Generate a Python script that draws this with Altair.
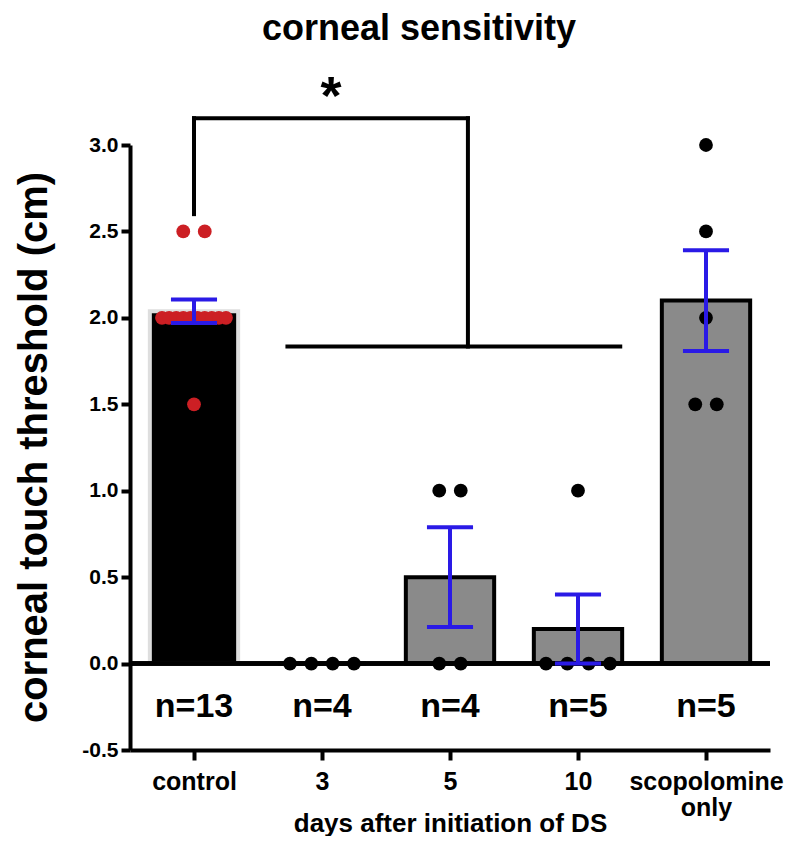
import altair as alt
import pandas as pd
import numpy as np

# ---------------- data ----------------
groups = ["control", "3", "5", "10", "scopolomine|only"]
control_vals = [2.5, 2.5, 2.0, 2.0, 2.0, 2.0, 2.0, 2.0, 2.0, 2.0, 2.0, 2.0, 1.5]
day3_vals = [0.0, 0.0, 0.0, 0.0]
day5_vals = [1.0, 1.0, 0.0, 0.0]
day10_vals = [1.0, 0.0, 0.0, 0.0, 0.0]
scop_vals = [3.0, 2.5, 2.0, 1.5, 1.5]
n_labels = ["n=13", "n=4", "n=4", "n=5", "n=5"]
y_ticks = [-0.5, 0.0, 0.5, 1.0, 1.5, 2.0, 2.5, 3.0]

# significance bracket (data units)
bracket_left_x = 0.0
bracket_right_x = 2.14
bracket_top_y = 3.155
bracket_left_bottom_y = 2.60
bracket_bottom_y = 1.835
bracket_bottom_span = [0.73, 3.33]
star_text = "*"
n_label_y = -0.25

# ---------------- styling ----------------
FONT = "Liberation Sans"
RED = "#cc1f24"
BLUE = "#2a1ae6"
GREY = "#8a8a8a"
BAR_HALF = 0.345
CAP_HALF = 0.18
DOT_STEP = 0.168
DOT_MAX_HALF = 0.25

all_vals = [control_vals, day3_vals, day5_vals, day10_vals, scop_vals]
dot_colors = [RED, "black", "black", "black", "black"]
bar_fill = ["black", GREY, GREY, GREY, GREY]
bar_stroke = ["#dedede", "black", "black", "black", "black"]

# dots, spread horizontally when values coincide
dot_rows = []
for gi, vals in enumerate(all_vals):
    for v in sorted(set(vals)):
        k = vals.count(v)
        step = min(DOT_STEP, 2 * DOT_MAX_HALF / (k - 1)) if k > 1 else 0
        for j in range(k):
            dot_rows.append(dict(x=gi + (j - (k - 1) / 2) * step, y=v, c=dot_colors[gi]))
dots = pd.DataFrame(dot_rows)

# bars with mean and SEM
bar_rows, cap_rows = [], []
for gi, vals in enumerate(all_vals):
    a = np.array(vals)
    m = a.mean()
    sem = a.std(ddof=1) / np.sqrt(len(a))
    bar_rows.append(dict(x=gi, x1=gi - BAR_HALF, x2=gi + BAR_HALF, y=m, y0=0.0,
                         lo=m - sem, hi=m + sem, sem=sem, fill=bar_fill[gi], stroke=bar_stroke[gi]))
    if sem > 0:
        for yy in (m - sem, m + sem):
            cap_rows.append(dict(x1=gi - CAP_HALF, x2=gi + CAP_HALF, y=yy))
bars = pd.DataFrame(bar_rows)
err = bars[bars["sem"] > 0]
caps = pd.DataFrame(cap_rows)

bracket = pd.DataFrame([
    dict(x1=bracket_left_x, x2=bracket_left_x, y=bracket_left_bottom_y, y2=bracket_top_y),
    dict(x1=bracket_left_x, x2=bracket_right_x, y=bracket_top_y, y2=bracket_top_y),
    dict(x1=bracket_right_x, x2=bracket_right_x, y=bracket_bottom_y, y2=bracket_top_y),
    dict(x1=bracket_bottom_span[0], x2=bracket_bottom_span[1], y=bracket_bottom_y, y2=bracket_bottom_y),
])
star = pd.DataFrame([dict(x=(bracket_left_x + bracket_right_x) / 2, y=bracket_top_y, t=star_text)])
nlab = pd.DataFrame([dict(x=i, y=n_label_y, t=t) for i, t in enumerate(n_labels)])

# ---------------- encodings ----------------
label_js = "[" + ",".join("'" + g + "'" for g in groups) + "]"
x_scale = alt.Scale(domain=[-0.5, 4.5], nice=False, zero=False)
y_scale = alt.Scale(domain=[-0.5, 3.0], nice=False, zero=False)

x_axis = alt.Axis(
    values=[0, 1, 2, 3, 4], labelExpr="split(" + label_js + "[datum.value], '|')",
    title="days after initiation of DS", grid=False,
    domainColor="black", domainWidth=4, tickColor="black", tickWidth=4, tickSize=10,
    labelFont=FONT, labelFontSize=25, labelFontWeight="bold", labelColor="black",
    labelPadding=9, labelLineHeight=26, labelBaseline="top",
    titleFont=FONT, titleFontSize=26, titleFontWeight="bold", titleColor="black",
    titleY=73, titleBaseline="middle",
)
y_axis = alt.Axis(
    values=y_ticks,
    labelExpr="datum.value < 0 ? '-' + format(-datum.value, '.1f') : format(datum.value, '.1f')",
    title="corneal touch threshold (cm)", grid=False,
    domainColor="black", domainWidth=4, tickColor="black", tickWidth=4, tickSize=9,
    labelFont=FONT, labelFontSize=21, labelFontWeight="bold", labelColor="black", labelPadding=3,
    titleFont=FONT, titleFontSize=40, titleFontWeight="bold", titleColor="black",
    titleX=-96, titleY=302, titleAngle=270, titleBaseline="middle", titleAlign="center",
)


def X(field):
    return alt.X(field, type="quantitative", scale=x_scale, axis=x_axis)


def Y(field):
    return alt.Y(field, type="quantitative", scale=y_scale, axis=y_axis)


bar_layer = alt.Chart(bars).mark_rect(strokeWidth=4).encode(
    x=X("x1"), x2="x2", y=Y("y"), y2="y0",
    fill=alt.Fill("fill:N", scale=None), stroke=alt.Stroke("stroke:N", scale=None),
)
zero_layer = alt.Chart(bars).mark_rule(color="black", strokeWidth=4).encode(y=alt.datum(0))
bracket_layer = alt.Chart(bracket).mark_rule(color="black", strokeWidth=4, strokeCap="square").encode(
    x=X("x1"), x2="x2", y=Y("y"), y2="y2"
)
dot_layer = alt.Chart(dots).mark_circle(size=190, opacity=1).encode(
    x=X("x"), y=Y("y"), color=alt.Color("c:N", scale=None)
)
err_layer = alt.Chart(err).mark_rule(color=BLUE, strokeWidth=4).encode(x=X("x"), y=Y("lo"), y2="hi")
cap_layer = alt.Chart(caps).mark_rule(color=BLUE, strokeWidth=4).encode(x=X("x1"), x2="x2", y=Y("y"))
star_layer = alt.Chart(star).mark_text(font=FONT, fontSize=54, fontWeight="bold", baseline="alphabetic",
                                       dy=-4, color="black").encode(x=X("x"), y=Y("y"), text="t:N")
n_layer = alt.Chart(nlab).mark_text(font=FONT, fontSize=34, fontWeight="bold", baseline="middle",
                                    color="black").encode(x=X("x"), y=Y("y"), text="t:N")

chart = alt.layer(
    bar_layer, zero_layer, bracket_layer, dot_layer, err_layer, cap_layer, star_layer, n_layer
).properties(
    width=640, height=605,
    autosize=alt.AutoSizeParams(type="none"),
    padding={"left": 122, "top": 137, "right": 22, "bottom": 86},
    title=alt.TitleParams("corneal sensitivity", font=FONT, fontSize=36, fontWeight="bold",
                          color="black", anchor="middle", frame="group", dx=-31, offset=23),
).configure_view(stroke=None)

chart.save("out.html", embed_options={"renderer": "svg", "actions": False})
